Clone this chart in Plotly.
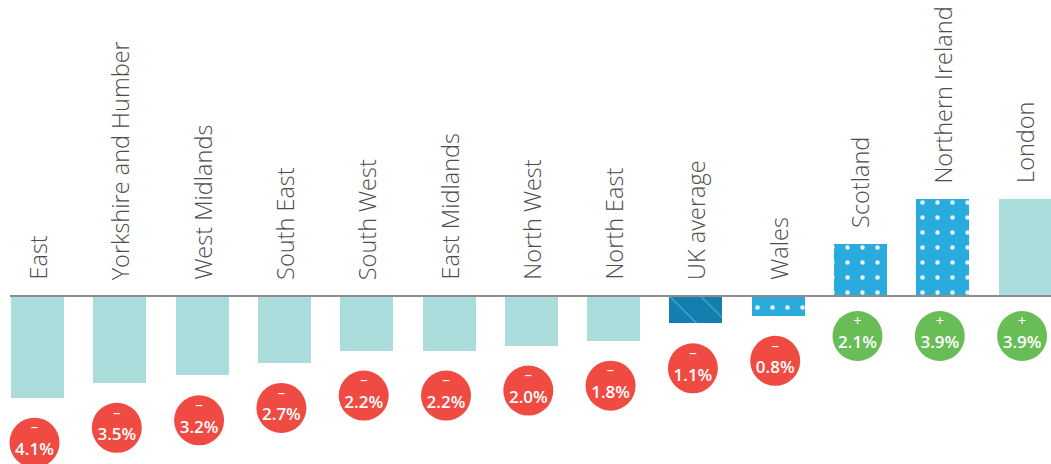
import plotly.graph_objects as go

# Regional change, percent
regions = ["East", "Yorkshire and Humber", "West Midlands", "South East", "South West",
           "East Midlands", "North West", "North East", "UK average", "Wales",
           "Scotland", "Northern Ireland", "London"]
changes = [-4.1, -3.5, -3.2, -2.7, -2.2, -2.2, -2.0, -1.8, -1.1, -0.8, 2.1, 3.9, 3.9]
# bar style group for each region
styles = ["plain"] * 8 + ["average", "confetti", "confetti", "confetti", "plain"]

STYLE = {
    "plain": dict(color="#a9dcda", pattern=dict(shape="")),
    "average": dict(color="#127fae",
                    pattern=dict(shape="\\", fillmode="overlay", fgcolor="#6cc0df",
                                 fgopacity=0.8, size=22, solidity=0.05)),
    "confetti": dict(color="#2aabde",
                     pattern=dict(shape=".", fillmode="overlay", fgcolor="white",
                                  fgopacity=0.9, size=15, solidity=0.07)),
}

W, H = 1051, 464
px_per_unit = 24.8      # vertical pixels per percentage point
baseline_px = 296
step_px = 82.3          # spacing between bar centres
first_px = 37.5

x = list(range(len(regions)))
x0 = -first_px / step_px
x1 = x0 + W / step_px
y1 = baseline_px / px_per_unit
y0 = -(H - baseline_px) / px_per_unit

fig = go.Figure()
for name, st in STYLE.items():
    idx = [i for i in x if styles[i] == name]
    fig.add_trace(go.Bar(
        x=idx, y=[changes[i] for i in idx], width=53 / step_px,
        marker=dict(color=st["color"], line=dict(width=0), pattern=st["pattern"]),
        hoverinfo="skip",
    ))

# Value badges under each bar: circle, sign on top, value below
badge_off = 45 / px_per_unit
badge_x = [i - 3 / step_px for i in x]
badge_y = [v - badge_off if v < 0 else -40 / px_per_unit for v in changes]
badge_col = ["#ef4b43" if v < 0 else "#68bd56" for v in changes]
signs = ["–" if v < 0 else "+" for v in changes]
values_txt = [f"{abs(v):.1f}%" for v in changes]

fig.add_trace(go.Scatter(
    x=badge_x, y=badge_y, mode="markers",
    marker=dict(size=50, color=badge_col, line=dict(width=0)),
    hoverinfo="skip", cliponaxis=False,
))
fig.add_trace(go.Scatter(
    x=badge_x, y=[b + 14 / px_per_unit for b in badge_y], mode="text",
    text=signs, textposition="middle center",
    textfont=dict(family="Open Sans", size=15, color="white", weight=400),
    hoverinfo="skip", cliponaxis=False,
))
fig.add_trace(go.Scatter(
    x=badge_x, y=[b - 8 / px_per_unit for b in badge_y], mode="text",
    text=values_txt, textposition="middle center",
    textfont=dict(family="Open Sans", size=17, color="white", weight=600),
    hoverinfo="skip", cliponaxis=False,
))

# Rotated region names above the bars
for i, (name, v) in enumerate(zip(regions, changes)):
    fig.add_annotation(
        x=i, y=max(v, 0) + 14 / px_per_unit, text=name, textangle=-90,
        xanchor="center", yanchor="bottom", showarrow=False,
        font=dict(family="Open Sans", size=23.5, color="#4d4d4d", weight=300),
    )

# Zero line
fig.add_shape(type="line", xref="paper", yref="y", x0=10 / W, x1=1, y0=0, y1=0,
              line=dict(color="#8d8d8d", width=2), layer="above")

fig.update_layout(
    width=W, height=H, margin=dict(l=0, r=0, t=0, b=0),
    paper_bgcolor="white", plot_bgcolor="white", showlegend=False,
    xaxis=dict(range=[x0, x1], visible=False, fixedrange=True),
    yaxis=dict(range=[y0, y1], visible=False, fixedrange=True),
    barmode="overlay", bargap=0,
)

fig.write_html("out.html", config={"displayModeBar": False})
